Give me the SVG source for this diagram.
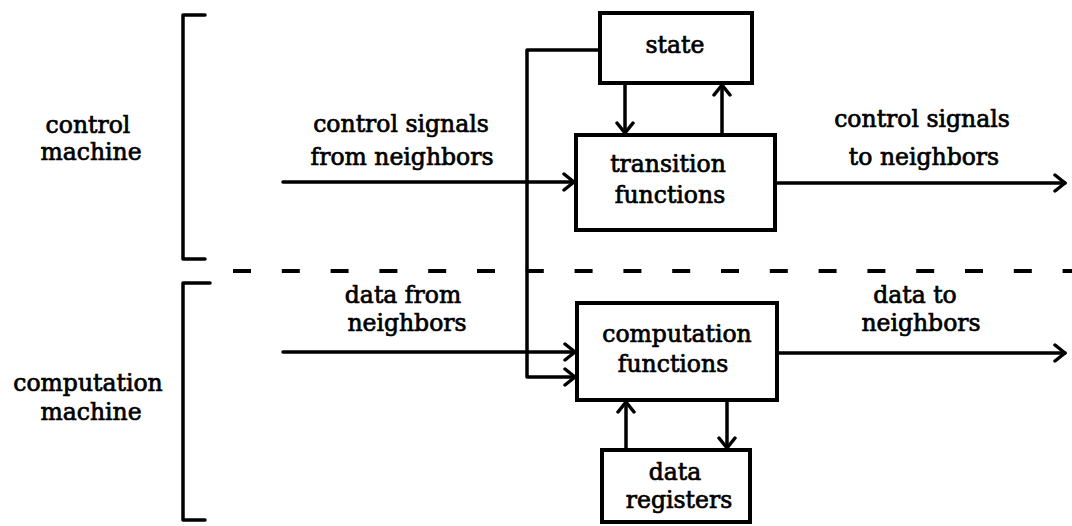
<svg xmlns="http://www.w3.org/2000/svg" width="1072" height="526" viewBox="0 0 1072 526">
<defs>
<style>
.box{fill:#fff;stroke:#000;stroke-width:4}
.ln{fill:none;stroke:#000;stroke-width:3.5;stroke-linecap:round;stroke-linejoin:round}
.t{font-family:"DejaVu Serif","Liberation Serif",serif;font-size:23.5px;fill:#000;stroke:#000;stroke-width:0.7;text-anchor:middle}
</style>
<marker id="ah" markerUnits="userSpaceOnUse" markerWidth="16" markerHeight="20" refX="12" refY="10" orient="auto">
<path d="M2,2 L12,10 L2,18" fill="none" stroke="#000" stroke-width="3.5" stroke-linecap="round" stroke-linejoin="round"/>
</marker>
</defs>
<rect width="1072" height="526" fill="#fff"/>
<g id="brackets">
<path class="ln" d="M205,15 L183,15 L183,259 L205,259"/>
<path class="ln" d="M210,283 L183,283 L183,520 L205,520"/>
</g>
<g id="divider">
<line x1="233" y1="271" x2="1072" y2="271" stroke="#000" stroke-width="4" stroke-dasharray="18 30.8"/>
</g>
<g id="labels">
<text class="t" x="88" y="133">control</text>
<text class="t" x="91" y="160">machine</text>
<text class="t" x="88" y="391">computation</text>
<text class="t" x="91" y="420">machine</text>
<text class="t" x="401" y="132">control signals</text>
<text class="t" x="402" y="165">from neighbors</text>
<text class="t" x="403" y="303">data from</text>
<text class="t" x="407" y="331">neighbors</text>
<text class="t" x="922" y="127">control signals</text>
<text class="t" x="924" y="165">to neighbors</text>
<text class="t" x="915" y="303">data to</text>
<text class="t" x="921" y="331">neighbors</text>
</g>
<g id="connectors">
<path class="ln" d="M600,50 L527,50 L527,377 L575,377" marker-end="url(#ah)"/>
<line class="ln" x1="283" y1="182" x2="574" y2="182" marker-end="url(#ah)"/>
<line class="ln" x1="283" y1="352" x2="575" y2="352" marker-end="url(#ah)"/>
<line class="ln" x1="625" y1="83" x2="625" y2="133" marker-end="url(#ah)"/>
<line class="ln" x1="722" y1="135" x2="722" y2="85" marker-end="url(#ah)"/>
<line class="ln" x1="775" y1="183" x2="1065" y2="183" marker-end="url(#ah)"/>
<line class="ln" x1="777" y1="353" x2="1065" y2="353" marker-end="url(#ah)"/>
<line class="ln" x1="626" y1="450" x2="626" y2="402" marker-end="url(#ah)"/>
<line class="ln" x1="727" y1="400" x2="727" y2="448" marker-end="url(#ah)"/>
</g>
<g id="state">
<rect class="box" x="600" y="13" width="152" height="70"/>
<text class="t" x="675" y="53">state</text>
</g>
<g id="transition">
<rect class="box" x="576" y="135" width="199" height="95"/>
<text class="t" x="668" y="172">transition</text>
<text class="t" x="670" y="203">functions</text>
</g>
<g id="computation">
<rect class="box" x="577" y="303" width="200" height="97"/>
<text class="t" x="677" y="342">computation</text>
<text class="t" x="673" y="372">functions</text>
</g>
<g id="registers">
<rect class="box" x="602" y="450" width="148" height="72"/>
<text class="t" x="675" y="480">data</text>
<text class="t" x="679" y="508">registers</text>
</g>
</svg>
